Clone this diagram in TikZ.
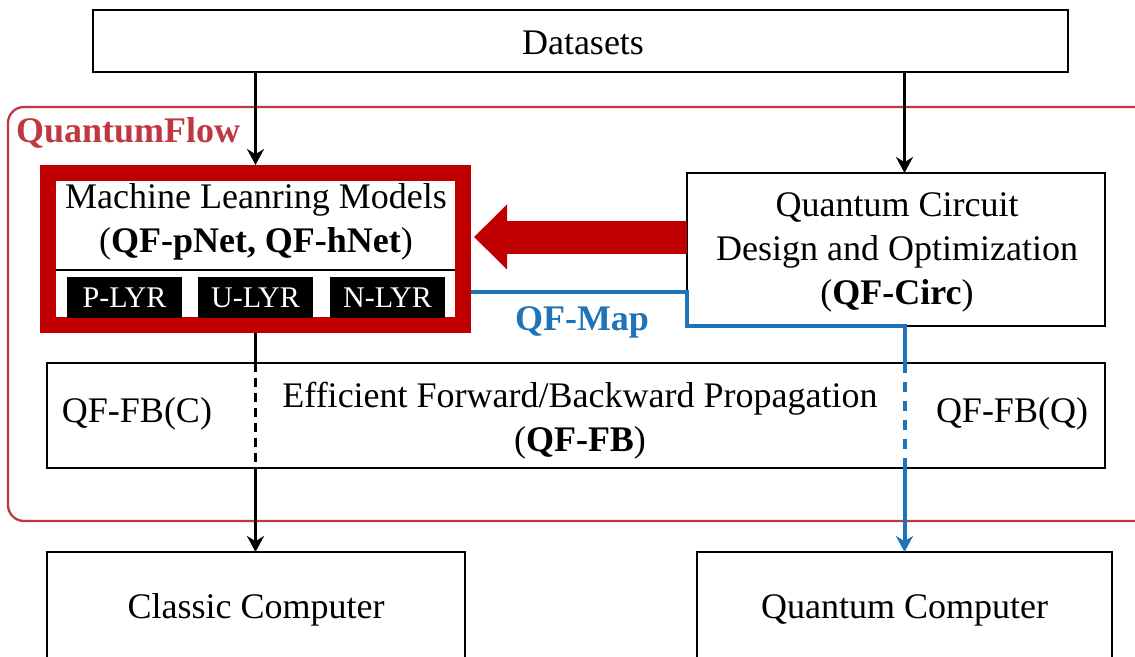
\documentclass[tikz,border=0pt]{standalone}
\usepackage{fontspec}
\setmainfont{Liberation Serif}
\usetikzlibrary{arrows.meta,calc}
\definecolor{mlred}{RGB}{192,0,0}
\definecolor{qfred}{RGB}{190,55,65}
\definecolor{mapblue}{RGB}{30,115,185}

\begin{document}
\begin{tikzpicture}[x=1pt,y=-1pt,
  box/.style={draw=black, line width=2.5pt, inner sep=0pt, outer sep=0pt},
  txt/.style={inner sep=0pt, font=\fontsize{36}{44}\selectfont, align=center},
  lyr/.style={fill=black, text=white, inner sep=0pt, minimum width=115pt,
    minimum height=41pt, font=\fontsize{30}{36}\selectfont},
  tip/.style={-{Stealth[length=16pt,width=17pt]}},
  flow/.style={draw=black, line width=2.2pt},
  mapline/.style={draw=mapblue, line width=4pt},
]
\useasboundingbox (0,0) rectangle (1135,656);

% QuantumFlow frame
\draw[qfred, line width=2.3pt, rounded corners=16pt] (8,107) rectangle (1170,521);
\node[anchor=west, inner sep=0pt, text=qfred, font=\fontsize{36}{44}\selectfont\bfseries]
  (qflabel) at (16,133) {QuantumFlow};

% boxes
\node[box, minimum width=975pt, minimum height=62pt] (ds) at (580.5,41) {};
\node[txt] (dstext) at (583,43) {Datasets};
\node[box, minimum width=418pt, minimum height=153pt] (qc) at (896,249.5) {};
\node[txt] (qctext) at (897,252)
  {Quantum Circuit\\Design and Optimization\\(\textbf{QF-Circ})};
\node[box, minimum width=1058pt, minimum height=105pt] (fb) at (576,415.5) {};
\node[txt] (fbtext) at (580,421)
  {Efficient Forward/Backward Propagation\\(\textbf{QF-FB})};
\node[txt] (fbc) at (137,414) {QF-FB(C)};
\node[txt] (fbq) at (1012,414) {QF-FB(Q)};
\node[box, minimum width=418pt, minimum height=110pt] (cc) at (256,607) {};
\node[txt] (cctext) at (256,610) {Classic Computer};
\node[box, minimum width=415pt, minimum height=110pt] (qcomp) at (904.5,607) {};
\node[txt] (qcomptext) at (904.5,610) {Quantum Computer};

% machine learning models block
\node[draw=mlred, line width=16pt, outer sep=8pt, inner sep=0pt,
  minimum width=415pt, minimum height=152pt] (ml) at (255.5,249) {};
\node[txt] (mltext) at (256,222) {Machine Leanring Models\\(\textbf{QF-pNet, QF-hNet})};
\draw[line width=2pt] ($(ml.west)+(16,21)$) coordinate (sepl) -- ($(ml.east)+(-16,21)$) coordinate (sepr);
\node[lyr] (plyr) at (124.5,297.5) {P-LYR};
\node[lyr] (ulyr) at (255.5,297.5) {U-LYR};
\node[lyr] (nlyr) at (387.5,297.5) {N-LYR};

% data flows
\draw[flow, tip] (ds.south -| ml.north) -- (ml.north);
\draw[flow, tip] (ds.south -| qcomp.north) -- (qc.north -| qcomp.north);

% circuit to model
\draw[mlred, line width=33pt, -{Triangle[length=33pt,width=63pt]}]
  (qc.west |- 0,237) -- ($(ml.east |- 0,237)+(3,0)$);

% classical path
\draw[flow] (ml.south) -- (fb.north -| ml.south);
\draw[flow, dash pattern=on 9pt off 6pt] (fb.north -| ml.south) -- (fb.south -| ml.south);
\draw[flow, tip] (fb.south -| ml.south) -- (cc.north -| ml.south);

% quantum mapping path
\draw[mapline, line join=miter] (ml.east |- 0,292) -- (qc.west |- 0,292) -- (qc.south west)
  -- (qc.south west -| qcomp.north) -- (fb.north -| qcomp.north);
\draw[mapline, dash pattern=on 10pt off 9pt] (fb.north -| qcomp.north) -- (fb.south -| qcomp.north);
\draw[mapline, tip] (fb.south -| qcomp.north) -- (qcomp.north);
\node[inner sep=0pt, text=mapblue, font=\fontsize{36}{44}\selectfont\bfseries]
  (qfmap) at (582,322) {QF-Map};
\end{tikzpicture}
\end{document}
